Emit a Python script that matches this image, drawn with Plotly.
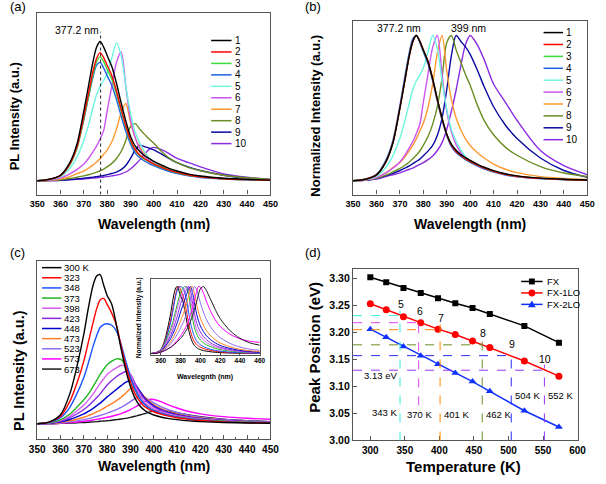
import plotly.graph_objects as go

W, H = 606, 484

# ---------------- data: panel (a)/(b) PL spectra of samples 1-10 ----------------
wl_a = [350, 355, 360, 364, 367, 370, 372, 374, 375.5, 377, 378.5, 380, 382, 384, 386,
        388, 390, 392, 394, 396, 398, 400, 403, 406, 410, 415, 420, 430, 440, 450]
s1 = [0.0, 0.01, 0.04, 0.13, 0.26, 0.50, 0.68, 0.86, 0.96, 1.0, 0.96, 0.90, 0.82, 0.70, 0.56,
      0.43, 0.32, 0.25, 0.21, 0.18, 0.16, 0.14, 0.115, 0.093, 0.07, 0.048, 0.034, 0.018, 0.01, 0.005]
s2 = [0.0, 0.009, 0.037, 0.12, 0.24, 0.46, 0.625, 0.79, 0.88, 0.92, 0.885, 0.83, 0.755, 0.645, 0.515,
      0.395, 0.295, 0.225, 0.185, 0.16, 0.14, 0.122, 0.1, 0.08, 0.06, 0.041, 0.029, 0.015, 0.008, 0.004]
s3 = [0.0, 0.009, 0.036, 0.116, 0.23, 0.445, 0.605, 0.765, 0.855, 0.89, 0.855, 0.80, 0.73, 0.625, 0.5,
      0.385, 0.285, 0.22, 0.18, 0.155, 0.135, 0.118, 0.097, 0.078, 0.058, 0.04, 0.028, 0.015, 0.008, 0.004]
s4 = [0.0, 0.009, 0.038, 0.12, 0.235, 0.44, 0.6, 0.75, 0.83, 0.85, 0.81, 0.755, 0.685, 0.585, 0.465,
      0.355, 0.265, 0.2, 0.165, 0.142, 0.124, 0.108, 0.088, 0.07, 0.052, 0.035, 0.024, 0.013, 0.007, 0.003]
s5 = [0.0, 0.008, 0.03, 0.09, 0.17, 0.29, 0.40, 0.53, 0.62, 0.68, 0.72, 0.77, 0.88, 0.99, 0.90,
      0.68, 0.49, 0.35, 0.27, 0.21, 0.165, 0.135, 0.105, 0.083, 0.06, 0.04, 0.028, 0.015, 0.008, 0.004]
s6 = [0.0, 0.005, 0.02, 0.05, 0.08, 0.12, 0.16, 0.21, 0.25, 0.30, 0.36, 0.50, 0.68, 0.85, 0.925,
      0.68, 0.44, 0.31, 0.23, 0.18, 0.145, 0.12, 0.095, 0.076, 0.055, 0.037, 0.026, 0.014, 0.008, 0.004]
s7 = [0.0, 0.003, 0.012, 0.03, 0.05, 0.07, 0.09, 0.115, 0.135, 0.16, 0.19, 0.22, 0.28, 0.37, 0.49,
      0.555, 0.42, 0.31, 0.24, 0.195, 0.16, 0.135, 0.108, 0.087, 0.064, 0.044, 0.031, 0.016, 0.009, 0.005]
s8 = [0.0, 0.002, 0.007, 0.016, 0.025, 0.035, 0.043, 0.053, 0.062, 0.072, 0.084, 0.1, 0.125, 0.16, 0.21,
      0.29, 0.39, 0.41, 0.37, 0.335, 0.3, 0.27, 0.215, 0.17, 0.13, 0.095, 0.072, 0.04, 0.022, 0.012]
s9 = [0.0, 0.001, 0.004, 0.009, 0.013, 0.018, 0.022, 0.026, 0.03, 0.034, 0.038, 0.044, 0.052, 0.062, 0.08,
      0.11, 0.16, 0.22, 0.255, 0.245, 0.235, 0.222, 0.195, 0.165, 0.13, 0.098, 0.074, 0.04, 0.018, 0.006]
s10 = [0.0, 0.001, 0.003, 0.007, 0.01, 0.013, 0.016, 0.019, 0.021, 0.024, 0.027, 0.03, 0.035, 0.041, 0.05,
       0.063, 0.085, 0.115, 0.15, 0.19, 0.225, 0.24, 0.225, 0.2, 0.16, 0.13, 0.1, 0.05, 0.025, 0.01]
sample_names = ["1", "2", "3", "4", "5", "6", "7", "8", "9", "10"]
sample_colors = ["#000000", "#ff0000", "#3ddc3d", "#1f5fe0", "#6ff5e0",
                 "#cc55f0", "#ff9a30", "#6b8e23", "#0a0aa0", "#8a2be2"]
peak_ref_nm = 377.2
peak_label_a = "377.2 nm"
peak_label_b2 = "399 nm"

# ---------------- data: panel (c) temperature-dependent spectra ----------------
wl_c = [350, 355, 360, 364, 367, 370, 372, 374, 375.5, 377, 378.5, 380, 382, 384, 386,
        388, 390, 392, 394, 396, 398, 400, 403, 406, 410, 415, 420, 430, 440, 450, 460]
c300 = [0.0, 0.01, 0.06, 0.2, 0.38, 0.6, 0.78, 0.93, 0.99, 1.0, 0.93, 0.86, 0.80, 0.66, 0.5,
        0.36, 0.25, 0.17, 0.12, 0.09, 0.07, 0.058, 0.045, 0.036, 0.027, 0.019, 0.014, 0.008, 0.005, 0.003, 0.002]
c323 = [0.0, 0.01, 0.05, 0.15, 0.27, 0.42, 0.55, 0.68, 0.77, 0.83, 0.84, 0.80, 0.74, 0.66, 0.52,
        0.39, 0.28, 0.2, 0.15, 0.115, 0.095, 0.08, 0.064, 0.052, 0.04, 0.029, 0.021, 0.012, 0.007, 0.004, 0.003]
c348 = [0.0, 0.008, 0.04, 0.11, 0.2, 0.31, 0.41, 0.52, 0.59, 0.645, 0.665, 0.67, 0.66, 0.62, 0.53,
        0.42, 0.31, 0.23, 0.17, 0.13, 0.105, 0.088, 0.07, 0.057, 0.044, 0.032, 0.024, 0.014, 0.008, 0.005, 0.003]
c373 = [0.0, 0.006, 0.025, 0.065, 0.11, 0.16, 0.2, 0.25, 0.29, 0.33, 0.365, 0.395, 0.42, 0.435, 0.43,
        0.39, 0.31, 0.23, 0.17, 0.13, 0.105, 0.088, 0.07, 0.057, 0.045, 0.034, 0.026, 0.016, 0.01, 0.006, 0.004]
c398 = [0.0, 0.005, 0.02, 0.05, 0.085, 0.125, 0.16, 0.2, 0.235, 0.27, 0.3, 0.33, 0.355, 0.375, 0.39,
        0.385, 0.33, 0.25, 0.19, 0.145, 0.118, 0.1, 0.08, 0.065, 0.051, 0.039, 0.03, 0.019, 0.012, 0.008, 0.006]
c423 = [0.0, 0.004, 0.015, 0.04, 0.065, 0.095, 0.12, 0.15, 0.175, 0.2, 0.23, 0.26, 0.29, 0.315, 0.335,
        0.35, 0.33, 0.27, 0.21, 0.165, 0.135, 0.113, 0.09, 0.073, 0.057, 0.043, 0.033, 0.021, 0.013, 0.008, 0.006]
c448 = [0.0, 0.003, 0.011, 0.028, 0.045, 0.065, 0.083, 0.103, 0.12, 0.138, 0.158, 0.18, 0.205, 0.23, 0.255,
        0.278, 0.29, 0.265, 0.22, 0.175, 0.143, 0.12, 0.096, 0.078, 0.061, 0.046, 0.035, 0.022, 0.014, 0.009, 0.006]
c473 = [0.0, 0.002, 0.008, 0.019, 0.03, 0.043, 0.055, 0.068, 0.079, 0.09, 0.103, 0.117, 0.135, 0.155, 0.178,
        0.205, 0.235, 0.24, 0.215, 0.18, 0.15, 0.127, 0.102, 0.083, 0.065, 0.049, 0.038, 0.024, 0.015, 0.01, 0.007]
c523 = [0.0, 0.001, 0.005, 0.012, 0.019, 0.027, 0.034, 0.042, 0.048, 0.055, 0.062, 0.071, 0.082, 0.095, 0.11,
        0.128, 0.148, 0.17, 0.185, 0.178, 0.16, 0.14, 0.115, 0.095, 0.075, 0.057, 0.044, 0.028, 0.018, 0.012, 0.009]
c573 = [0.0, 0.001, 0.003, 0.007, 0.011, 0.016, 0.02, 0.025, 0.029, 0.033, 0.038, 0.043, 0.05, 0.058, 0.068,
        0.08, 0.095, 0.112, 0.13, 0.148, 0.163, 0.162, 0.148, 0.128, 0.105, 0.082, 0.066, 0.047, 0.036, 0.03, 0.027]
c673 = [0.0, 0.0, 0.002, 0.004, 0.006, 0.008, 0.01, 0.012, 0.014, 0.016, 0.018, 0.02, 0.023, 0.027, 0.031,
        0.036, 0.042, 0.05, 0.058, 0.067, 0.077, 0.085, 0.088, 0.083, 0.072, 0.058, 0.046, 0.03, 0.02, 0.014, 0.011]
temp_names = ["300 K", "323", "348", "373", "398", "423", "448", "473", "523", "573", "673"]
temp_colors = ["#000000", "#ff0000", "#1a53ff", "#22b422", "#d65cf0", "#8a2be2",
               "#0000cd", "#ff7f27", "#8c6cf0", "#ff00ff", "#1a1a1a"]

# ---------------- data: panel (d) peak positions ----------------
temps_d = [300, 323, 348, 373, 398, 423, 448, 473, 523, 573]
fx = [3.302, 3.293, 3.282, 3.273, 3.263, 3.254, 3.245, 3.234, 3.212, 3.181]
fx1lo = [3.253, 3.242, 3.229, 3.218, 3.206, 3.196, 3.184, 3.172, 3.147, 3.119]
fx2lo = [3.206, 3.191, 3.174, 3.157, 3.141, 3.125, 3.109, 3.091, 3.055, 3.025]
series_d = ["FX", "FX-1LO", "FX-2LO"]
marked_ids = ["5", "6", "7", "8", "9", "10"]
marked_T = [343, 370, 401, 462, 504, 552]
marked_E = [3.231, 3.218, 3.205, 3.177, 3.157, 3.130]
marked_labels = ["343 K", "370 K", "401 K", "462 K", "504 K", "552 K"]
energy_label = "3.13 eV"

# ---------------- styling helpers ----------------
FONT = "Liberation Sans, Arial, sans-serif"
FRAME = "#555555"


def px(x):
    return x / W


def py(y):
    return 1 - y / H


fig = go.Figure()

samples = [s1, s2, s3, s4, s5, s6, s7, s8, s9, s10]
for name, ys, col in reversed(list(zip(sample_names, samples, sample_colors))):
    fig.add_trace(go.Scatter(x=wl_a, y=ys, mode="lines", name=name,
                             line=dict(color=col, width=1.4, shape="spline", smoothing=0.8),
                             xaxis="x", yaxis="y", showlegend=False))
for name, ys, col in reversed(list(zip(sample_names, samples, sample_colors))):
    m = max(ys)
    fig.add_trace(go.Scatter(x=wl_a, y=[v / m for v in ys], mode="lines", name=name,
                             line=dict(color=col, width=1.4, shape="spline", smoothing=0.8),
                             xaxis="x2", yaxis="y2", showlegend=False))

temps_c = [c300, c323, c348, c373, c398, c423, c448, c473, c523, c573, c673]
for name, ys, col in reversed(list(zip(temp_names, temps_c, temp_colors))):
    fig.add_trace(go.Scatter(x=wl_c, y=ys, mode="lines", name=name,
                             line=dict(color=col, width=1.4, shape="spline", smoothing=0.8),
                             xaxis="x3", yaxis="y3", showlegend=False))
for name, ys, col in zip(temp_names, temps_c, temp_colors):
    m = max(ys)
    fig.add_trace(go.Scatter(x=wl_c, y=[v / m for v in ys], mode="lines", name=name,
                             line=dict(color=col, width=1.0, shape="spline", smoothing=0.8),
                             xaxis="x5", yaxis="y5", showlegend=False))

d_styles = [("#000000", "square", 6), ("#ff0000", "circle", 7), ("#1030ff", "triangle-up", 7)]
for name, ys, (col, sym, sz) in zip(series_d, [fx, fx1lo, fx2lo], d_styles):
    fig.add_trace(go.Scatter(x=temps_d, y=ys, mode="lines+markers", name=name,
                             line=dict(color=col, width=1.5),
                             marker=dict(color=col, symbol=sym, size=sz),
                             xaxis="x4", yaxis="y4", showlegend=False))

common = dict(showline=True, mirror=True, linecolor=FRAME, linewidth=1.3, showgrid=False,
              zeroline=False, ticks="inside", tickcolor=FRAME, ticklen=4)


def tf(size):
    return dict(family=FONT, size=size, color="#000", weight="bold")


fig.update_layout(
    width=W, height=H, margin=dict(l=0, r=0, t=0, b=0),
    paper_bgcolor="white", plot_bgcolor="rgba(0,0,0,0)", showlegend=False,
    xaxis=dict(domain=[px(30), px(270)], range=[350, 450], anchor="y", tick0=350, dtick=10,
               tickfont=tf(9), **common),
    yaxis=dict(domain=[py(197), py(13)], range=[-0.099, 1.206], anchor="x",
               showticklabels=False, **{**common, "ticks": ""}),
    xaxis2=dict(domain=[px(355), px(596)], range=[350, 450], anchor="y2", tick0=350, dtick=10,
                tickfont=tf(9), **common),
    yaxis2=dict(domain=[py(197), py(21)], range=[-0.095, 1.102], anchor="x2",
                showticklabels=False, **{**common, "ticks": ""}),
    xaxis3=dict(domain=[px(30), px(270)], range=[350, 450], anchor="y3", tick0=350, dtick=10,
                tickfont=tf(10), minor=dict(ticks="inside", dtick=5, ticklen=2, tickcolor=FRAME),
                **common),
    yaxis3=dict(domain=[py(445), py(264)], range=[-0.106, 1.093], anchor="x3",
                showticklabels=False, **{**common, "ticks": ""}),
    xaxis4=dict(domain=[px(355), px(586)], range=[275, 600], anchor="y4", tick0=300, dtick=50,
                tickfont=tf(10), **common),
    yaxis4=dict(domain=[py(446), py(272)], range=[3.0, 3.318], anchor="x4", tick0=3.0, dtick=0.05,
                tickformat=".2f", tickfont=tf(10.5), **common),
    xaxis5=dict(domain=[px(147), px(259)], range=[350, 460], anchor="y5", tick0=360, dtick=20,
                tickfont=tf(6.5), **{**common, "ticklen": 2, "linewidth": 1}),
    yaxis5=dict(domain=[py(359), py(282)], range=[-0.015, 1.12], anchor="x5",
                showticklabels=False, **{**common, "ticks": "", "linewidth": 1}),
)


def txt(x, y, s, size=10, bold=False, anchor="center", angle=0):
    fig.add_annotation(x=px(x), y=py(y), xref="paper", yref="paper", text=s, showarrow=False,
                       xanchor=anchor, yanchor="middle", textangle=angle,
                       font=dict(family=FONT, size=size, color="#000",
                                 weight="bold" if bold else "normal"))


# panel letters
txt(0, 7, "(a)", 13, anchor="left")
txt(303, 7, "(b)", 13, anchor="left")
txt(0, 256, "(c)", 13, anchor="left")
txt(303, 256, "(d)", 13, anchor="left")

# axis titles
txt(7, 118, "PL Intensity (a.u.)", 13, True, angle=-90)
txt(150, 227, "Wavelength (nm)", 14, True)
txt(316, 117, "Normalized Intensity (a.u.)", 13, True, angle=-90)
txt(475, 227, "Wavelength (nm)", 14, True)
txt(12, 375, "PL Intensity (a.u.)", 14.5, True, angle=-90)
txt(150, 472, "Wavelength (nm)", 14, True)
txt(316, 352, "Peak Position (eV)", 15, True, angle=-90)
txt(469, 472, "Temperature (K)", 15, True)
txt(135, 322, "Normalized Intensity (a.u.)", 6.5, True, angle=-90)
txt(203, 382, "Wavelegnth (nm)", 7, True)

# panel (a): dotted marker and label
fig.add_shape(type="line", xref="x", yref="y", x0=peak_ref_nm, x1=peak_ref_nm, y0=-0.099, y1=1.07,
              line=dict(color="#222", width=1, dash="dot"))
fig.add_annotation(x=peak_ref_nm, y=1.085, xref="x", yref="y", text=peak_label_a, showarrow=False,
                   xanchor="right", yanchor="middle", font=dict(family=FONT, size=10.5, color="#000"))
# panel (b): labels
fig.add_annotation(x=369.5, y=1.054, xref="x2", yref="y2", text=peak_label_a, showarrow=False,
                   font=dict(family=FONT, size=10.5, color="#000"))
fig.add_annotation(x=399.4, y=1.054, xref="x2", yref="y2", text=peak_label_b2, showarrow=False,
                   font=dict(family=FONT, size=10.5, color="#000"))


# manual legends
def legend_rows(names, colors, x0, x1, xt, y0, dy, size):
    for i, (n, c) in enumerate(zip(names, colors)):
        y = y0 + dy * i
        fig.add_shape(type="line", xref="paper", yref="paper", x0=px(x0), x1=px(x1), y0=py(y), y1=py(y),
                      line=dict(color=c, width=1.5))
        txt(xt, y, n, size, anchor="left")


legend_rows(sample_names, sample_colors, 209, 230, 231, 41, 11.6, 10)
legend_rows(sample_names, sample_colors, 551, 571, 572, 33, 12.05, 10)
legend_rows(temp_names, temp_colors, 35, 55, 56, 271, 10.27, 9.5)

# panel (d) legend with markers
for i, (name, (col, sym, sz)) in enumerate(zip(series_d, d_styles)):
    y = 285 + 11.6 * i
    fig.add_shape(type="line", xref="paper", yref="paper", x0=px(528), x1=px(550), y0=py(y), y1=py(y),
                  line=dict(color=col, width=1.5))
    cx = 539
    if sym == "square":
        fig.add_shape(type="rect", xref="paper", yref="paper", x0=px(cx - 3), x1=px(cx + 3),
                      y0=py(y + 3), y1=py(y - 3), fillcolor=col, line=dict(width=0))
    elif sym == "circle":
        fig.add_shape(type="circle", xref="paper", yref="paper", x0=px(cx - 3.5), x1=px(cx + 3.5),
                      y0=py(y + 3.5), y1=py(y - 3.5), fillcolor=col, line=dict(width=0))
    else:
        path = "M {:.5f},{:.5f} L {:.5f},{:.5f} L {:.5f},{:.5f} Z".format(
            px(cx - 4), py(y + 3), px(cx + 4), py(y + 3), px(cx), py(y - 4))
        fig.add_shape(type="path", xref="paper", yref="paper", path=path, fillcolor=col, line=dict(width=0))
    txt(552, y, name, 9.5, anchor="left")

# panel (d) guide lines
dash_colors = ["#33eedd", "#dd44ee", "#ff8800", "#6b8e23", "#2a2aee", "#9933ff"]
for k, (sid, T, E, lab, col) in enumerate(zip(marked_ids, marked_T, marked_E, marked_labels, dash_colors)):
    top = E + 0.010
    fig.add_shape(type="line", xref="x4", yref="y4", x0=275, x1=T, y0=E, y1=E,
                  line=dict(color=col, width=1, dash="dash"))
    ybot = 3.065 if k == 1 else 3.0
    fig.add_shape(type="line", xref="x4", yref="y4", x0=T, x1=T, y0=ybot, y1=top,
                  line=dict(color=col, width=1, dash="dash"))
    fig.add_annotation(x=T + 1.5, y=top + 0.011, xref="x4", yref="y4", text=sid, showarrow=False,
                       font=dict(family=FONT, size=10.5, color="#000"))
    if k == 0:
        fig.add_annotation(x=T - 1.5, y=3.051, xref="x4", yref="y4", text=lab, showarrow=False,
                           xanchor="right", font=dict(family=FONT, size=9.5, color="#000"))
    elif k == 1:
        fig.add_annotation(x=T + 1, y=3.048, xref="x4", yref="y4", text=lab, showarrow=False,
                           xanchor="center", font=dict(family=FONT, size=9.5, color="#000"))
    elif k in (2, 3):
        fig.add_annotation(x=T + 2.5, y=3.048, xref="x4", yref="y4", text=lab, showarrow=False,
                           xanchor="left", font=dict(family=FONT, size=9.5, color="#000"))
    else:
        fig.add_annotation(x=T + 2.5, y=3.083, xref="x4", yref="y4", text=lab, showarrow=False,
                           xanchor="left", font=dict(family=FONT, size=9.5, color="#000"))
fig.add_annotation(x=288, y=3.121, xref="x4", yref="y4", text=energy_label, showarrow=False,
                   xanchor="left", font=dict(family=FONT, size=9.5, color="#000"))

fig.write_html("out.html", config={"displayModeBar": False},
               post_script="document.body.style.margin='0';")
